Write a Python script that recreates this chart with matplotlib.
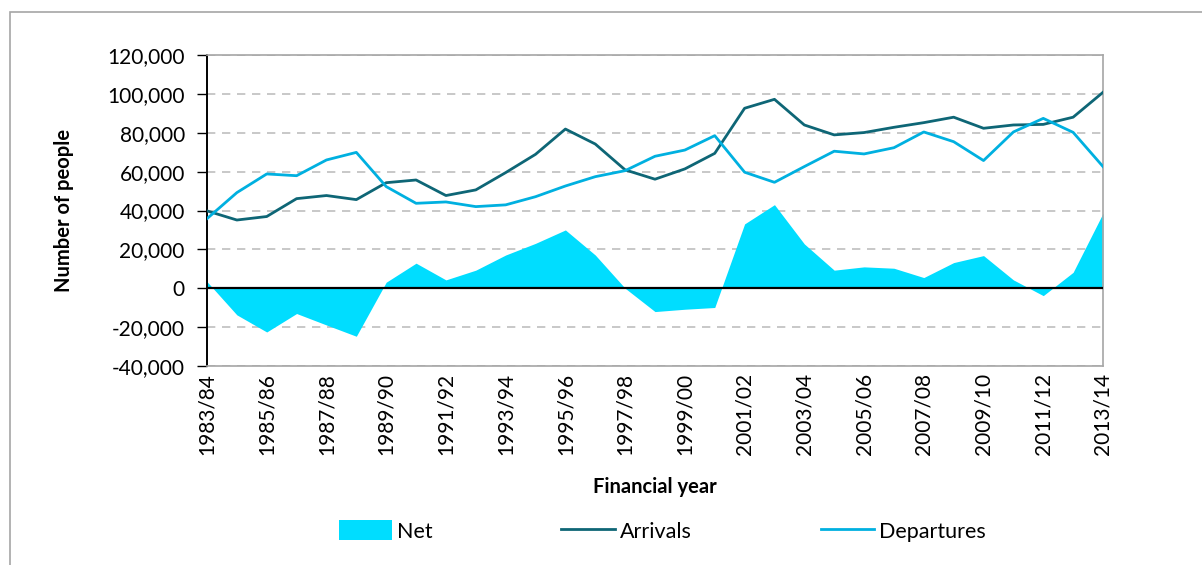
import matplotlib.pyplot as plt
from matplotlib.patches import Rectangle
from matplotlib.ticker import FuncFormatter

NET_C, ARR_C, DEP_C = "#00DDFF", "#0E6676", "#00B0E0"
GRID = "#BFBFBF"

plt.rcParams.update({"font.family": ["Lato", "DejaVu Sans"], "font.size": 15})

years = [f"{y}/{str(y + 1)[-2:]}" for y in range(1983, 2014)]
arrivals = [39800, 35100, 36900, 46100, 47700, 45600, 54300, 55700, 47700, 50600,
            59500, 68900, 81900, 74200, 60900, 56100, 61400, 69400, 92600, 97200,
            84000, 78900, 80100, 82800, 85200, 88000, 82300, 84000, 84300, 88000,
            100800]
departures = [35800, 49200, 58800, 57900, 66000, 69900, 52300, 43700, 44400, 42000,
              42900, 47100, 52600, 57400, 60500, 67900, 71100, 78500, 59700, 54500,
              62600, 70500, 69100, 72300, 80400, 75400, 65700, 80400, 87400, 80200,
              62600]
net = [3400, -13700, -22500, -13000, -18900, -24700, 3100, 12900, 4300, 9300,
       17100, 23100, 30000, 17100, 0, -12000, -10800, -9900, 33100, 43000,
       22800, 9300, 11000, 10300, 5500, 13200, 16800, 4300, -3800, 8200,
       38600]

fig = plt.figure(figsize=(12.02, 5.65), dpi=100)
ax = fig.add_axes([207 / 1202, 1 - 366 / 565, 896 / 1202, 311 / 565])

x = list(range(len(years)))
ax.fill_between(x, net, 0, color=NET_C, linewidth=0, label="Net", zorder=2)
ax.plot(x, arrivals, color=ARR_C, linewidth=2, label="Arrivals", zorder=4)
ax.plot(x, departures, color=DEP_C, linewidth=2, label="Departures", zorder=4)
ax.axhline(0, color="black", linewidth=1.6, zorder=3)

ax.set_xlim(0, len(years) - 1)
ax.set_ylim(-40000, 120000)
ax.set_yticks(range(-40000, 120001, 20000))
ax.yaxis.set_major_formatter(FuncFormatter(lambda v, _: f"{int(v):,}"))
ax.yaxis.grid(True, color=GRID, linestyle=(0, (5, 4)), linewidth=1.2, zorder=0)
ax.set_axisbelow(True)

ax.set_xticks(x[::2])
ax.set_xticklabels(years[::2], rotation=90)
ax.tick_params(axis="x", length=0, pad=5, labelsize=15)
ax.tick_params(axis="y", length=7, width=1, labelsize=15, pad=9)

for s in ("top", "right", "bottom"):
    ax.spines[s].set_color("#A6A6A6")
    ax.spines[s].set_linewidth(1.2)
ax.spines["left"].set_color("black")
ax.spines["left"].set_linewidth(1.4)

ax.set_xlabel("Financial year", fontweight="bold", fontsize=14.5, labelpad=16)
ax.set_ylabel("Number of people", fontweight="bold", fontsize=14.5, labelpad=24)

fig.legend(loc="center", bbox_to_anchor=(662 / 1202, 1 - 531 / 565), ncol=3,
           frameon=False, fontsize=15.5, handlelength=2.5, handletextpad=0.2,
           columnspacing=6.0, handleheight=1.0)

# outer chart border
fig.patches.append(Rectangle((10 / 1202, -0.1), 1.2, 1 - 12 / 565 + 0.1,
                             transform=fig.transFigure, fill=False,
                             edgecolor="#A6A6A6", linewidth=1.2))

fig.savefig("out.png", dpi=100, facecolor="white")
